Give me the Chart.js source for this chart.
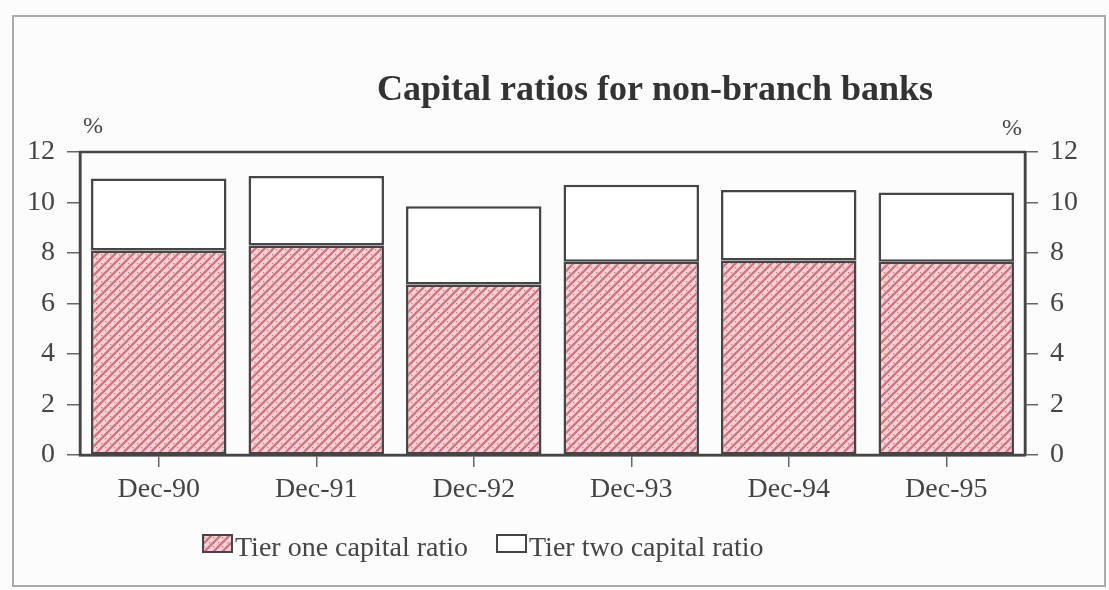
<!DOCTYPE html>
<html>
<head>
<meta charset="utf-8">
<script src="https://cdn.jsdelivr.net/npm/chart.js@4.4.1/dist/chart.umd.min.js"></script>
<style>
  body { margin: 0; background: #fcfcfc; }
</style>
</head>
<body>
<canvas id="myChart" width="1109" height="590"></canvas>
<script>
var categories = ['Dec-90', 'Dec-91', 'Dec-92', 'Dec-93', 'Dec-94', 'Dec-95'];
var tierOne = [8.1, 8.3, 6.75, 7.65, 7.7, 7.65];
var tierTwo = [2.85, 2.75, 3.1, 3.05, 2.8, 2.75];
var seriesNames = ['Tier one capital ratio', 'Tier two capital ratio'];
var yTicks = [0, 2, 4, 6, 8, 10, 12];

var serif = "'Liberation Serif', 'Times New Roman', serif";
var ink = '#454545';

// pink hatch with dots, like the printed fill
function makeHatch() {
  var c = document.createElement('canvas');
  c.width = 9; c.height = 9;
  var g = c.getContext('2d');
  g.fillStyle = '#f7d3d7';
  g.fillRect(0, 0, 9, 9);
  g.strokeStyle = '#d27581';
  g.lineWidth = 2.4;
  g.beginPath();
  g.moveTo(-1, 10); g.lineTo(10, -1);
  g.moveTo(-2, 2); g.lineTo(2, -2);
  g.moveTo(7, 11); g.lineTo(11, 7);
  g.stroke();
  g.fillStyle = '#b98088';
  g.fillRect(2, 2, 1.3, 1.3);
  g.fillRect(6, 6, 1.3, 1.3);
  return g.createPattern(c, 'repeat');
}
var ctx = document.getElementById('myChart');
var hatch = makeHatch();

const extras = {
  id: 'extras',
  beforeDraw(chart) {
    var c = chart.ctx;
    c.save();
    c.fillStyle = '#fcfcfc';
    c.fillRect(0, 0, chart.width, chart.height);
    c.strokeStyle = '#aaaaaa';
    c.lineWidth = 2;
    c.strokeRect(13, 16, 1092, 570);
    c.restore();
  },
  afterDraw(chart) {
    var c = chart.ctx;
    var a = chart.chartArea;
    c.save();
    // frame round the plot
    c.strokeStyle = ink;
    c.lineWidth = 2.5;
    c.strokeRect(a.left, a.top, a.right - a.left, a.bottom - a.top);
    // title
    c.fillStyle = '#333';
    c.font = 'bold 36px ' + serif;
    c.textAlign = 'center';
    c.textBaseline = 'alphabetic';
    c.fillText('Capital ratios for non-branch banks', 655, 100);
    // unit marks
    c.fillStyle = ink;
    c.font = '24px ' + serif;
    c.fillText('%', 93, 133);
    c.fillText('%', 1012, 135);
    // legend
    var items = [
      { x: 203, fill: hatch, text: seriesNames[0] },
      { x: 497, fill: '#ffffff', text: seriesNames[1] }
    ];
    c.font = '28px ' + serif;
    c.textAlign = 'left';
    items.forEach(function (it) {
      c.fillStyle = it.fill;
      c.fillRect(it.x, 535, 29, 17);
      c.strokeStyle = ink;
      c.lineWidth = 2;
      c.strokeRect(it.x, 535, 29, 17);
      c.fillStyle = ink;
      c.fillText(it.text, it.x + 32, 556);
    });
    c.restore();
  }
};

const tickFont = { family: serif, size: 28 };

const config = {
  type: 'bar',
  data: {
    labels: categories,
    datasets: [
      {
        label: seriesNames[0],
        data: tierOne,
        backgroundColor: hatch,
        borderColor: ink,
        borderWidth: 2.5,
        borderSkipped: false,
        barPercentage: 0.86,
        categoryPercentage: 1
      },
      {
        label: seriesNames[1],
        data: tierTwo,
        backgroundColor: '#ffffff',
        borderColor: ink,
        borderWidth: 2.5,
        borderSkipped: false,
        barPercentage: 0.86,
        categoryPercentage: 1
      }
    ]
  },
  options: {
    responsive: false,
    animation: false,
    layout: { padding: { top: 152, bottom: 75, left: 0, right: 0 } },
    plugins: {
      legend: { display: false },
      title: { display: false },
      tooltip: { enabled: false }
    },
    scales: {
      x: {
        stacked: true,
        grid: { drawOnChartArea: false, offset: false, tickLength: 12, color: '#666', lineWidth: 1.5 },
        border: { color: ink, width: 2.5 },
        ticks: { font: tickFont, color: ink, padding: 6, maxRotation: 0 },
        afterFit: function (s) { s.height = 60; }
      },
      y: {
        stacked: true,
        min: 0, max: 12,
        afterBuildTicks: function (s) { s.ticks = yTicks.map(function (v) { return { value: v }; }); },
        grid: { drawOnChartArea: false, tickLength: 13, color: '#666', lineWidth: 1.5 },
        border: { color: ink, width: 2.5 },
        ticks: { font: tickFont, color: ink, padding: 12 },
        afterFit: function (s) { s.width = 80; }
      },
      y2: {
        position: 'right',
        min: 0, max: 12,
        afterBuildTicks: function (s) { s.ticks = yTicks.map(function (v) { return { value: v }; }); },
        grid: { drawOnChartArea: false, tickLength: 13, color: '#666', lineWidth: 1.5 },
        border: { color: ink, width: 2.5 },
        ticks: { font: tickFont, color: ink, padding: 12 },
        afterFit: function (s) { s.width = 84; }
      }
    }
  },
  plugins: [extras]
};

const myChart = new Chart(ctx, config);
</script>
</body>
</html>
